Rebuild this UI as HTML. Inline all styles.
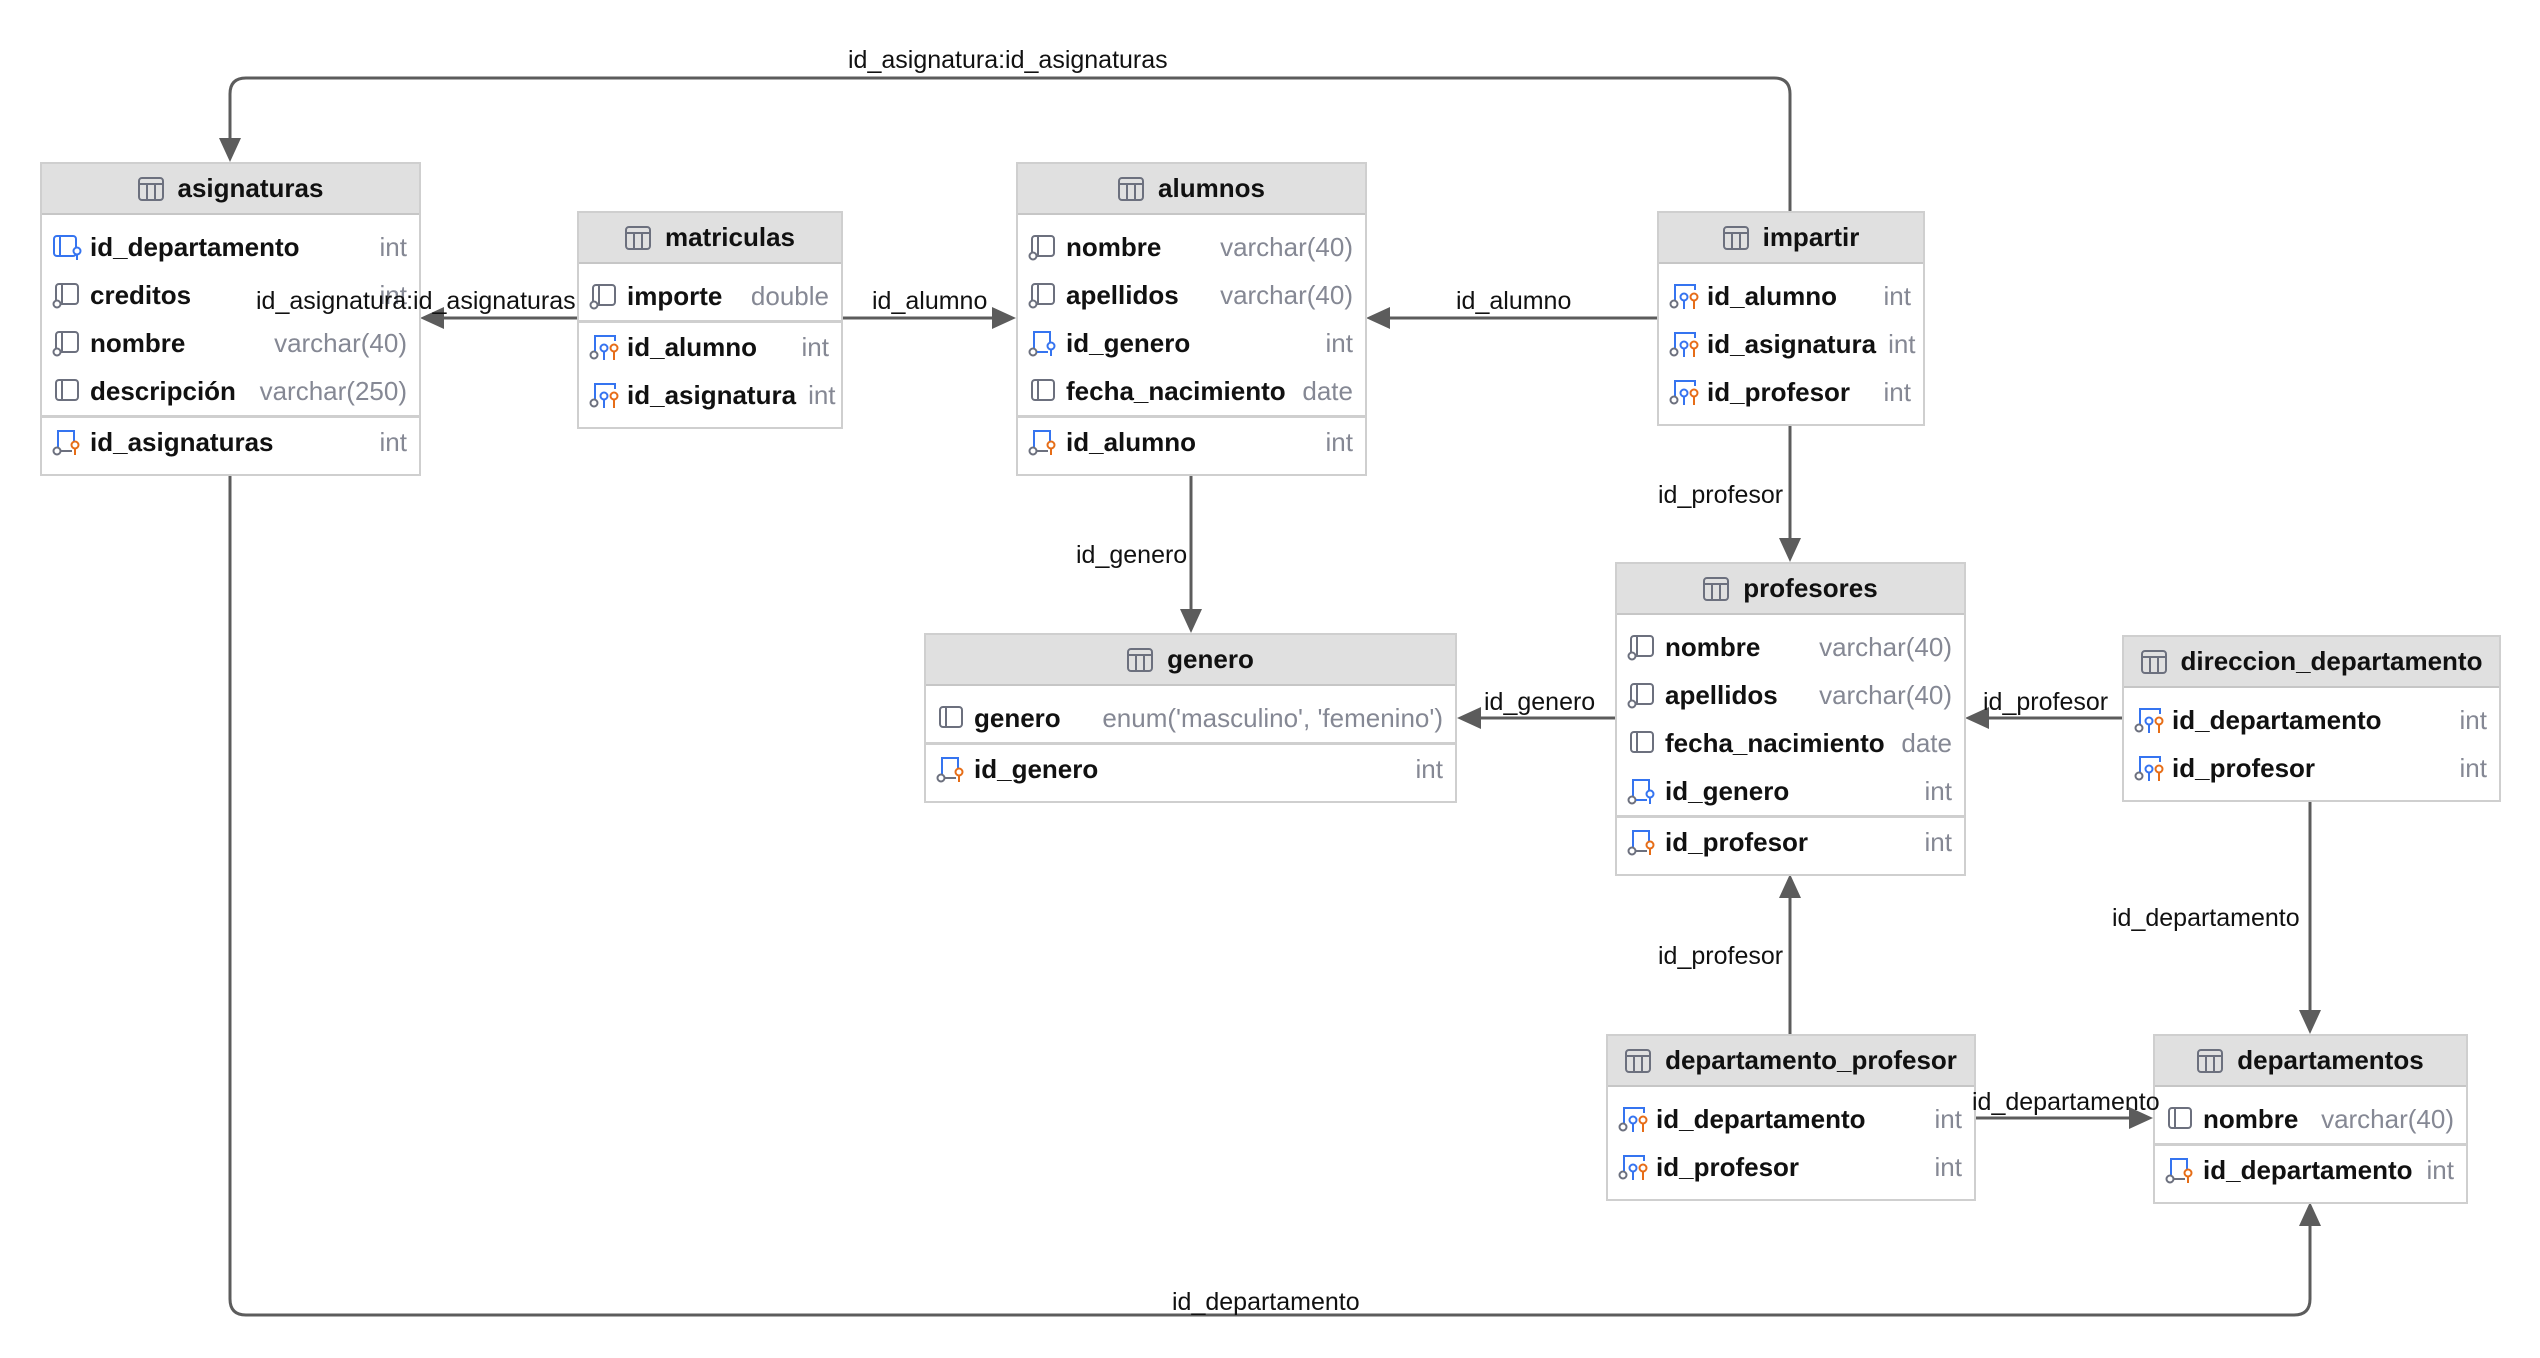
<!DOCTYPE html>
<html><head><meta charset="utf-8">
<style>
html,body{margin:0;padding:0;background:#fff;}
body{width:2540px;height:1358px;position:relative;overflow:hidden;font-family:"Liberation Sans",sans-serif;}
.t{position:absolute;border:2px solid #cfcfcf;background:#fff;box-sizing:border-box;z-index:1;}
.h{height:49px;background:#e0e0e0;border-bottom:2px solid #c6c6c6;display:flex;align-items:center;justify-content:center;font-weight:bold;font-size:26px;color:#111;}
.h svg{margin-right:14px;}
.b{padding:8px 0 8px 0;}
.r{height:48px;display:flex;align-items:center;padding:0 12px 0 10px;font-size:26px;}
.r svg{flex:none;margin-right:8px;}
.r b{color:#111;white-space:nowrap;}
.r span{margin-left:auto;color:#858894;white-space:nowrap;padding-left:12px;}
.sep{height:0;border-top:3px solid #cfcfcf;margin:0;}
.lb{position:absolute;font-size:25px;color:#111;white-space:nowrap;line-height:1;z-index:5;}
</style></head><body>
<svg width="2540" height="1358" style="position:absolute;left:0;top:0" xmlns="http://www.w3.org/2000/svg">
<g fill="none" stroke="#5c5c5c" stroke-width="3">
<path d="M1790 211 V94 Q1790 78 1774 78 H246 Q230 78 230 94 V140"/>
<path d="M577 318 H440"/>
<path d="M842 318 H996"/>
<path d="M1657 318 H1386"/>
<path d="M1191 475 V612"/>
<path d="M1790 425 V542"/>
<path d="M1615 718 H1476"/>
<path d="M2122 718 H1985"/>
<path d="M2310 801 V1012"/>
<path d="M1790 1034 V896"/>
<path d="M1975 1118 H2131"/>
<path d="M230 475 V1299 Q230 1315 246 1315 H2294 Q2310 1315 2310 1299 V1224"/>
</g>
<g fill="#5c5c5c">
<polygon points="230,162 219,138 241,138"/>
<polygon points="420,318 444,307 444,329"/>
<polygon points="1016,318 992,307 992,329"/>
<polygon points="1366,318 1390,307 1390,329"/>
<polygon points="1191,633 1180,609 1202,609"/>
<polygon points="1790,562 1779,538 1801,538"/>
<polygon points="1457,718 1481,707 1481,729"/>
<polygon points="1965,718 1989,707 1989,729"/>
<polygon points="2310,1034 2299,1010 2321,1010"/>
<polygon points="1790,874 1779,898 1801,898"/>
<polygon points="2153,1118 2129,1107 2129,1129"/>
<polygon points="2310,1202 2299,1226 2321,1226"/>
</g>
</svg>

<div class="lb" style="left:848px;top:48px">id_asignatura:id_asignaturas</div>
<div class="lb" style="left:256px;top:289px">id_asignatura:id_asignaturas</div>
<div class="lb" style="left:872px;top:289px">id_alumno</div>
<div class="lb" style="left:1456px;top:289px">id_alumno</div>
<div class="lb" style="left:1076px;top:543px">id_genero</div>
<div class="lb" style="left:1658px;top:483px">id_profesor</div>
<div class="lb" style="left:1484px;top:690px">id_genero</div>
<div class="lb" style="left:1983px;top:690px">id_profesor</div>
<div class="lb" style="left:2112px;top:906px">id_departamento</div>
<div class="lb" style="left:1658px;top:944px">id_profesor</div>
<div class="lb" style="left:1972px;top:1090px">id_departamento</div>
<div class="lb" style="left:1172px;top:1290px">id_departamento</div>

<!-- asignaturas -->
<div class="t" style="left:40px;top:162px;width:381px;">
<div class="h"><svg width="26" height="24" viewBox="0 0 26 24"><rect x="1" y="1" width="24" height="22" rx="3" fill="none" stroke="#6c707e" stroke-width="2"/><path d="M1 7H25M9 7V23M17 7V23" stroke="#6c707e" stroke-width="2"/></svg>asignaturas</div>
<div class="b">
<div class="r"><svg width="30" height="28" viewBox="0 0 30 28"><rect x="2" y="3" width="22" height="20" rx="3" fill="none" stroke="#3574f0" stroke-width="2"/><path d="M8 3V23" stroke="#3574f0" stroke-width="2"/><circle cx="25" cy="18" r="3.5" fill="#fff" stroke="#3574f0" stroke-width="2"/><path d="M25 22V27" stroke="#3574f0" stroke-width="2"/></svg><b>id_departamento</b><span>int</span></div>
<div class="r"><svg width="30" height="28" viewBox="0 0 30 28"><rect x="4" y="3" width="22" height="20" rx="3" fill="none" stroke="#6c707e" stroke-width="2"/><path d="M10 3V23" stroke="#6c707e" stroke-width="2"/><circle cx="5" cy="23" r="3.5" fill="#fff" stroke="#6c707e" stroke-width="2"/></svg><b>creditos</b><span>int</span></div>
<div class="r"><svg width="30" height="28" viewBox="0 0 30 28"><rect x="4" y="3" width="22" height="20" rx="3" fill="none" stroke="#6c707e" stroke-width="2"/><path d="M10 3V23" stroke="#6c707e" stroke-width="2"/><circle cx="5" cy="23" r="3.5" fill="#fff" stroke="#6c707e" stroke-width="2"/></svg><b>nombre</b><span>varchar(40)</span></div>
<div class="r"><svg width="30" height="28" viewBox="0 0 30 28"><rect x="4" y="3" width="22" height="20" rx="3" fill="none" stroke="#6c707e" stroke-width="2"/><path d="M10 3V23" stroke="#6c707e" stroke-width="2"/></svg><b>descripción</b><span>varchar(250)</span></div>
<div class="sep"></div>
<div class="r"><svg width="30" height="28" viewBox="0 0 30 28"><path d="M6 20V3H22V18" fill="none" stroke="#3574f0" stroke-width="2"/><circle cx="5" cy="23" r="3.5" fill="#fff" stroke="#6c707e" stroke-width="2"/><path d="M9 23H20" stroke="#6c707e" stroke-width="2"/><circle cx="23" cy="17" r="3.5" fill="#fff" stroke="#e66d17" stroke-width="2"/><path d="M23 21V27" stroke="#e66d17" stroke-width="2"/></svg><b>id_asignaturas</b><span>int</span></div>
</div></div>

<!-- matriculas -->
<div class="t" style="left:577px;top:211px;width:266px;">
<div class="h"><svg width="26" height="24" viewBox="0 0 26 24"><rect x="1" y="1" width="24" height="22" rx="3" fill="none" stroke="#6c707e" stroke-width="2"/><path d="M1 7H25M9 7V23M17 7V23" stroke="#6c707e" stroke-width="2"/></svg>matriculas</div>
<div class="b">
<div class="r"><svg width="30" height="28" viewBox="0 0 30 28"><rect x="4" y="3" width="22" height="20" rx="3" fill="none" stroke="#6c707e" stroke-width="2"/><path d="M10 3V23" stroke="#6c707e" stroke-width="2"/><circle cx="5" cy="23" r="3.5" fill="#fff" stroke="#6c707e" stroke-width="2"/></svg><b>importe</b><span>double</span></div>
<div class="sep"></div>
<div class="r"><svg width="30" height="28" viewBox="0 0 30 28"><path d="M6 18V3H26V8" fill="none" stroke="#3574f0" stroke-width="2"/><circle cx="5" cy="22" r="3.5" fill="#fff" stroke="#6c707e" stroke-width="2"/><circle cx="15" cy="15" r="3.5" fill="#fff" stroke="#3574f0" stroke-width="2"/><path d="M15 19V27" stroke="#3574f0" stroke-width="2"/><circle cx="25" cy="15" r="3.5" fill="#fff" stroke="#e66d17" stroke-width="2"/><path d="M25 19V27" stroke="#e66d17" stroke-width="2"/></svg><b>id_alumno</b><span>int</span></div>
<div class="r"><svg width="30" height="28" viewBox="0 0 30 28"><path d="M6 18V3H26V8" fill="none" stroke="#3574f0" stroke-width="2"/><circle cx="5" cy="22" r="3.5" fill="#fff" stroke="#6c707e" stroke-width="2"/><circle cx="15" cy="15" r="3.5" fill="#fff" stroke="#3574f0" stroke-width="2"/><path d="M15 19V27" stroke="#3574f0" stroke-width="2"/><circle cx="25" cy="15" r="3.5" fill="#fff" stroke="#e66d17" stroke-width="2"/><path d="M25 19V27" stroke="#e66d17" stroke-width="2"/></svg><b>id_asignatura</b><span>int</span></div>
</div></div>

<!-- alumnos -->
<div class="t" style="left:1016px;top:162px;width:351px;">
<div class="h"><svg width="26" height="24" viewBox="0 0 26 24"><rect x="1" y="1" width="24" height="22" rx="3" fill="none" stroke="#6c707e" stroke-width="2"/><path d="M1 7H25M9 7V23M17 7V23" stroke="#6c707e" stroke-width="2"/></svg>alumnos</div>
<div class="b">
<div class="r"><svg width="30" height="28" viewBox="0 0 30 28"><rect x="4" y="3" width="22" height="20" rx="3" fill="none" stroke="#6c707e" stroke-width="2"/><path d="M10 3V23" stroke="#6c707e" stroke-width="2"/><circle cx="5" cy="23" r="3.5" fill="#fff" stroke="#6c707e" stroke-width="2"/></svg><b>nombre</b><span>varchar(40)</span></div>
<div class="r"><svg width="30" height="28" viewBox="0 0 30 28"><rect x="4" y="3" width="22" height="20" rx="3" fill="none" stroke="#6c707e" stroke-width="2"/><path d="M10 3V23" stroke="#6c707e" stroke-width="2"/><circle cx="5" cy="23" r="3.5" fill="#fff" stroke="#6c707e" stroke-width="2"/></svg><b>apellidos</b><span>varchar(40)</span></div>
<div class="r"><svg width="30" height="28" viewBox="0 0 30 28"><path d="M6 20V3H22V18" fill="none" stroke="#3574f0" stroke-width="2"/><circle cx="5" cy="23" r="3.5" fill="#fff" stroke="#6c707e" stroke-width="2"/><path d="M9 23H20" stroke="#3574f0" stroke-width="2"/><circle cx="23" cy="17" r="3.5" fill="#fff" stroke="#3574f0" stroke-width="2"/><path d="M23 21V27" stroke="#3574f0" stroke-width="2"/></svg><b>id_genero</b><span>int</span></div>
<div class="r"><svg width="30" height="28" viewBox="0 0 30 28"><rect x="4" y="3" width="22" height="20" rx="3" fill="none" stroke="#6c707e" stroke-width="2"/><path d="M10 3V23" stroke="#6c707e" stroke-width="2"/></svg><b>fecha_nacimiento</b><span>date</span></div>
<div class="sep"></div>
<div class="r"><svg width="30" height="28" viewBox="0 0 30 28"><path d="M6 20V3H22V18" fill="none" stroke="#3574f0" stroke-width="2"/><circle cx="5" cy="23" r="3.5" fill="#fff" stroke="#6c707e" stroke-width="2"/><path d="M9 23H20" stroke="#6c707e" stroke-width="2"/><circle cx="23" cy="17" r="3.5" fill="#fff" stroke="#e66d17" stroke-width="2"/><path d="M23 21V27" stroke="#e66d17" stroke-width="2"/></svg><b>id_alumno</b><span>int</span></div>
</div></div>

<!-- impartir -->
<div class="t" style="left:1657px;top:211px;width:268px;">
<div class="h"><svg width="26" height="24" viewBox="0 0 26 24"><rect x="1" y="1" width="24" height="22" rx="3" fill="none" stroke="#6c707e" stroke-width="2"/><path d="M1 7H25M9 7V23M17 7V23" stroke="#6c707e" stroke-width="2"/></svg>impartir</div>
<div class="b">
<div class="r"><svg width="30" height="28" viewBox="0 0 30 28"><path d="M6 18V3H26V8" fill="none" stroke="#3574f0" stroke-width="2"/><circle cx="5" cy="22" r="3.5" fill="#fff" stroke="#6c707e" stroke-width="2"/><circle cx="15" cy="15" r="3.5" fill="#fff" stroke="#3574f0" stroke-width="2"/><path d="M15 19V27" stroke="#3574f0" stroke-width="2"/><circle cx="25" cy="15" r="3.5" fill="#fff" stroke="#e66d17" stroke-width="2"/><path d="M25 19V27" stroke="#e66d17" stroke-width="2"/></svg><b>id_alumno</b><span>int</span></div>
<div class="r"><svg width="30" height="28" viewBox="0 0 30 28"><path d="M6 18V3H26V8" fill="none" stroke="#3574f0" stroke-width="2"/><circle cx="5" cy="22" r="3.5" fill="#fff" stroke="#6c707e" stroke-width="2"/><circle cx="15" cy="15" r="3.5" fill="#fff" stroke="#3574f0" stroke-width="2"/><path d="M15 19V27" stroke="#3574f0" stroke-width="2"/><circle cx="25" cy="15" r="3.5" fill="#fff" stroke="#e66d17" stroke-width="2"/><path d="M25 19V27" stroke="#e66d17" stroke-width="2"/></svg><b>id_asignatura</b><span>int</span></div>
<div class="r"><svg width="30" height="28" viewBox="0 0 30 28"><path d="M6 18V3H26V8" fill="none" stroke="#3574f0" stroke-width="2"/><circle cx="5" cy="22" r="3.5" fill="#fff" stroke="#6c707e" stroke-width="2"/><circle cx="15" cy="15" r="3.5" fill="#fff" stroke="#3574f0" stroke-width="2"/><path d="M15 19V27" stroke="#3574f0" stroke-width="2"/><circle cx="25" cy="15" r="3.5" fill="#fff" stroke="#e66d17" stroke-width="2"/><path d="M25 19V27" stroke="#e66d17" stroke-width="2"/></svg><b>id_profesor</b><span>int</span></div>
</div></div>

<!-- genero -->
<div class="t" style="left:924px;top:633px;width:533px;">
<div class="h"><svg width="26" height="24" viewBox="0 0 26 24"><rect x="1" y="1" width="24" height="22" rx="3" fill="none" stroke="#6c707e" stroke-width="2"/><path d="M1 7H25M9 7V23M17 7V23" stroke="#6c707e" stroke-width="2"/></svg>genero</div>
<div class="b">
<div class="r"><svg width="30" height="28" viewBox="0 0 30 28"><rect x="4" y="3" width="22" height="20" rx="3" fill="none" stroke="#6c707e" stroke-width="2"/><path d="M10 3V23" stroke="#6c707e" stroke-width="2"/></svg><b>genero</b><span>enum('masculino', 'femenino')</span></div>
<div class="sep"></div>
<div class="r"><svg width="30" height="28" viewBox="0 0 30 28"><path d="M6 20V3H22V18" fill="none" stroke="#3574f0" stroke-width="2"/><circle cx="5" cy="23" r="3.5" fill="#fff" stroke="#6c707e" stroke-width="2"/><path d="M9 23H20" stroke="#6c707e" stroke-width="2"/><circle cx="23" cy="17" r="3.5" fill="#fff" stroke="#e66d17" stroke-width="2"/><path d="M23 21V27" stroke="#e66d17" stroke-width="2"/></svg><b>id_genero</b><span>int</span></div>
</div></div>

<!-- profesores -->
<div class="t" style="left:1615px;top:562px;width:351px;">
<div class="h"><svg width="26" height="24" viewBox="0 0 26 24"><rect x="1" y="1" width="24" height="22" rx="3" fill="none" stroke="#6c707e" stroke-width="2"/><path d="M1 7H25M9 7V23M17 7V23" stroke="#6c707e" stroke-width="2"/></svg>profesores</div>
<div class="b">
<div class="r"><svg width="30" height="28" viewBox="0 0 30 28"><rect x="4" y="3" width="22" height="20" rx="3" fill="none" stroke="#6c707e" stroke-width="2"/><path d="M10 3V23" stroke="#6c707e" stroke-width="2"/><circle cx="5" cy="23" r="3.5" fill="#fff" stroke="#6c707e" stroke-width="2"/></svg><b>nombre</b><span>varchar(40)</span></div>
<div class="r"><svg width="30" height="28" viewBox="0 0 30 28"><rect x="4" y="3" width="22" height="20" rx="3" fill="none" stroke="#6c707e" stroke-width="2"/><path d="M10 3V23" stroke="#6c707e" stroke-width="2"/><circle cx="5" cy="23" r="3.5" fill="#fff" stroke="#6c707e" stroke-width="2"/></svg><b>apellidos</b><span>varchar(40)</span></div>
<div class="r"><svg width="30" height="28" viewBox="0 0 30 28"><rect x="4" y="3" width="22" height="20" rx="3" fill="none" stroke="#6c707e" stroke-width="2"/><path d="M10 3V23" stroke="#6c707e" stroke-width="2"/></svg><b>fecha_nacimiento</b><span>date</span></div>
<div class="r"><svg width="30" height="28" viewBox="0 0 30 28"><path d="M6 20V3H22V18" fill="none" stroke="#3574f0" stroke-width="2"/><circle cx="5" cy="23" r="3.5" fill="#fff" stroke="#6c707e" stroke-width="2"/><path d="M9 23H20" stroke="#3574f0" stroke-width="2"/><circle cx="23" cy="17" r="3.5" fill="#fff" stroke="#3574f0" stroke-width="2"/><path d="M23 21V27" stroke="#3574f0" stroke-width="2"/></svg><b>id_genero</b><span>int</span></div>
<div class="sep"></div>
<div class="r"><svg width="30" height="28" viewBox="0 0 30 28"><path d="M6 20V3H22V18" fill="none" stroke="#3574f0" stroke-width="2"/><circle cx="5" cy="23" r="3.5" fill="#fff" stroke="#6c707e" stroke-width="2"/><path d="M9 23H20" stroke="#6c707e" stroke-width="2"/><circle cx="23" cy="17" r="3.5" fill="#fff" stroke="#e66d17" stroke-width="2"/><path d="M23 21V27" stroke="#e66d17" stroke-width="2"/></svg><b>id_profesor</b><span>int</span></div>
</div></div>

<!-- direccion_departamento -->
<div class="t" style="left:2122px;top:635px;width:379px;">
<div class="h"><svg width="26" height="24" viewBox="0 0 26 24"><rect x="1" y="1" width="24" height="22" rx="3" fill="none" stroke="#6c707e" stroke-width="2"/><path d="M1 7H25M9 7V23M17 7V23" stroke="#6c707e" stroke-width="2"/></svg>direccion_departamento</div>
<div class="b">
<div class="r"><svg width="30" height="28" viewBox="0 0 30 28"><path d="M6 18V3H26V8" fill="none" stroke="#3574f0" stroke-width="2"/><circle cx="5" cy="22" r="3.5" fill="#fff" stroke="#6c707e" stroke-width="2"/><circle cx="15" cy="15" r="3.5" fill="#fff" stroke="#3574f0" stroke-width="2"/><path d="M15 19V27" stroke="#3574f0" stroke-width="2"/><circle cx="25" cy="15" r="3.5" fill="#fff" stroke="#e66d17" stroke-width="2"/><path d="M25 19V27" stroke="#e66d17" stroke-width="2"/></svg><b>id_departamento</b><span>int</span></div>
<div class="r"><svg width="30" height="28" viewBox="0 0 30 28"><path d="M6 18V3H26V8" fill="none" stroke="#3574f0" stroke-width="2"/><circle cx="5" cy="22" r="3.5" fill="#fff" stroke="#6c707e" stroke-width="2"/><circle cx="15" cy="15" r="3.5" fill="#fff" stroke="#3574f0" stroke-width="2"/><path d="M15 19V27" stroke="#3574f0" stroke-width="2"/><circle cx="25" cy="15" r="3.5" fill="#fff" stroke="#e66d17" stroke-width="2"/><path d="M25 19V27" stroke="#e66d17" stroke-width="2"/></svg><b>id_profesor</b><span>int</span></div>
</div></div>

<!-- departamento_profesor -->
<div class="t" style="left:1606px;top:1034px;width:370px;">
<div class="h"><svg width="26" height="24" viewBox="0 0 26 24"><rect x="1" y="1" width="24" height="22" rx="3" fill="none" stroke="#6c707e" stroke-width="2"/><path d="M1 7H25M9 7V23M17 7V23" stroke="#6c707e" stroke-width="2"/></svg>departamento_profesor</div>
<div class="b">
<div class="r"><svg width="30" height="28" viewBox="0 0 30 28"><path d="M6 18V3H26V8" fill="none" stroke="#3574f0" stroke-width="2"/><circle cx="5" cy="22" r="3.5" fill="#fff" stroke="#6c707e" stroke-width="2"/><circle cx="15" cy="15" r="3.5" fill="#fff" stroke="#3574f0" stroke-width="2"/><path d="M15 19V27" stroke="#3574f0" stroke-width="2"/><circle cx="25" cy="15" r="3.5" fill="#fff" stroke="#e66d17" stroke-width="2"/><path d="M25 19V27" stroke="#e66d17" stroke-width="2"/></svg><b>id_departamento</b><span>int</span></div>
<div class="r"><svg width="30" height="28" viewBox="0 0 30 28"><path d="M6 18V3H26V8" fill="none" stroke="#3574f0" stroke-width="2"/><circle cx="5" cy="22" r="3.5" fill="#fff" stroke="#6c707e" stroke-width="2"/><circle cx="15" cy="15" r="3.5" fill="#fff" stroke="#3574f0" stroke-width="2"/><path d="M15 19V27" stroke="#3574f0" stroke-width="2"/><circle cx="25" cy="15" r="3.5" fill="#fff" stroke="#e66d17" stroke-width="2"/><path d="M25 19V27" stroke="#e66d17" stroke-width="2"/></svg><b>id_profesor</b><span>int</span></div>
</div></div>

<!-- departamentos -->
<div class="t" style="left:2153px;top:1034px;width:315px;">
<div class="h"><svg width="26" height="24" viewBox="0 0 26 24"><rect x="1" y="1" width="24" height="22" rx="3" fill="none" stroke="#6c707e" stroke-width="2"/><path d="M1 7H25M9 7V23M17 7V23" stroke="#6c707e" stroke-width="2"/></svg>departamentos</div>
<div class="b">
<div class="r"><svg width="30" height="28" viewBox="0 0 30 28"><rect x="4" y="3" width="22" height="20" rx="3" fill="none" stroke="#6c707e" stroke-width="2"/><path d="M10 3V23" stroke="#6c707e" stroke-width="2"/></svg><b>nombre</b><span>varchar(40)</span></div>
<div class="sep"></div>
<div class="r"><svg width="30" height="28" viewBox="0 0 30 28"><path d="M6 20V3H22V18" fill="none" stroke="#3574f0" stroke-width="2"/><circle cx="5" cy="23" r="3.5" fill="#fff" stroke="#6c707e" stroke-width="2"/><path d="M9 23H20" stroke="#6c707e" stroke-width="2"/><circle cx="23" cy="17" r="3.5" fill="#fff" stroke="#e66d17" stroke-width="2"/><path d="M23 21V27" stroke="#e66d17" stroke-width="2"/></svg><b>id_departamento</b><span>int</span></div>
</div></div>

</body></html>
